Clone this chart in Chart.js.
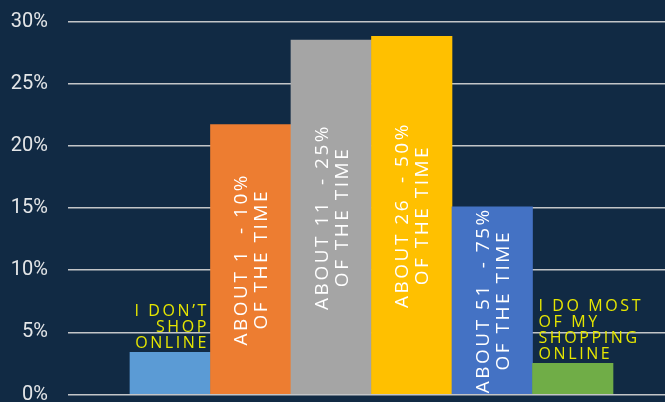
<!DOCTYPE html>
<html>
<head>
    <title>Online Shopping Share</title>
    <script src="https://cdn.jsdelivr.net/npm/chart.js"></script>
    <style>
        body { margin: 0; background: #112a44; }
    </style>
</head>
<body>
    <canvas id="myChart" width="665" height="402"></canvas>
    <script>
    // categories, one line per entry
    const categories = [
        ['I DON\u2019T', 'SHOP', 'ONLINE'],
        ['ABOUT 1  - 10%', 'OF THE TIME'],
        ['ABOUT 11  - 25%', 'OF THE TIME'],
        ['ABOUT 26  - 50%', 'OF THE TIME'],
        ['ABOUT 51  - 75%', 'OF THE TIME'],
        ['I DO MOST', 'OF MY', 'SHOPPING', 'ONLINE']
    ];
    const shares = [3.4, 21.7, 28.5, 28.8, 15.1, 2.5];
    const barColors = ['#5b9bd5', '#ed7d31', '#a5a5a5', '#ffc000', '#4472c4', '#70ad47'];
    const yTickLabels = ['0%', '5%', '10%', '15%', '20%', '25%', '30%'];

    // labels: rotated inside tall bars, stacked above short ones
    const barLabels = {
        id: 'barLabels',
        afterDatasetsDraw(chart) {
            const ctx = chart.ctx;
            const bars = chart.getDatasetMeta(0).data;
            bars.forEach((bar, i) => {
                const lines = categories[i];
                const h = bar.base - bar.y;
                ctx.save();
                if (h > 150) {
                    ctx.translate(bar.x + 1, (bar.y + bar.base) / 2);
                    ctx.rotate(-Math.PI / 2);
                    ctx.font = '19px "Open Sans"';
                    ctx.letterSpacing = '2.5px';
                    ctx.fillStyle = '#ffffff';
                    ctx.textAlign = 'center';
                    ctx.textBaseline = 'middle';
                    lines.forEach((t, j) => ctx.fillText(t, 0, (j - (lines.length - 1) / 2) * 20));
                } else {
                    const alignRight = i < bars.length / 2;
                    ctx.font = '16px "Open Sans"';
                    ctx.letterSpacing = '2.6px';
                    ctx.fillStyle = '#e6e600';
                    ctx.textAlign = alignRight ? 'right' : 'left';
                    ctx.textBaseline = 'alphabetic';
                    const x = alignRight ? bar.x + bar.width / 2 - 1.5 : bar.x - bar.width / 2 + 6;
                    lines.forEach((t, j) => ctx.fillText(t, x, bar.y - 4 - (lines.length - 1 - j) * 16));
                }
                ctx.restore();
            });
        }
    };

    const ctx = document.getElementById('myChart').getContext('2d');
    const myChart = new Chart(ctx, {
        type: 'bar',
        data: {
            datasets: [{
                data: shares.map((v, i) => ({ x: i, y: v })),
                backgroundColor: barColors,
                borderWidth: 0,
                barPercentage: 1,
                categoryPercentage: 1
            }]
        },
        options: {
            responsive: false,
            animation: false,
            layout: { padding: { top: 21.5, bottom: 7.5, left: 0, right: 0 } },
            plugins: { legend: { display: false }, tooltip: { enabled: false } },
            scales: {
                x: { type: 'linear', offset: false, min: -1.27, max: 6.146, display: false },
                y: {
                    min: 0,
                    max: 30,
                    ticks: {
                        stepSize: 5,
                        color: '#e4e6e8',
                        padding: 20,
                        font: { family: 'Roboto', size: 20 },
                        callback: (v, i) => yTickLabels[i]
                    },
                    grid: { color: '#c3c5c8', lineWidth: 1.5, drawTicks: false },
                    border: { display: false },
                    afterFit(scale) {
                        scale.width = 68;
                        scale.paddingTop = 0;
                        scale.paddingBottom = 0;
                    }
                }
            }
        },
        plugins: [barLabels]
    });
    </script>
</body>
</html>
